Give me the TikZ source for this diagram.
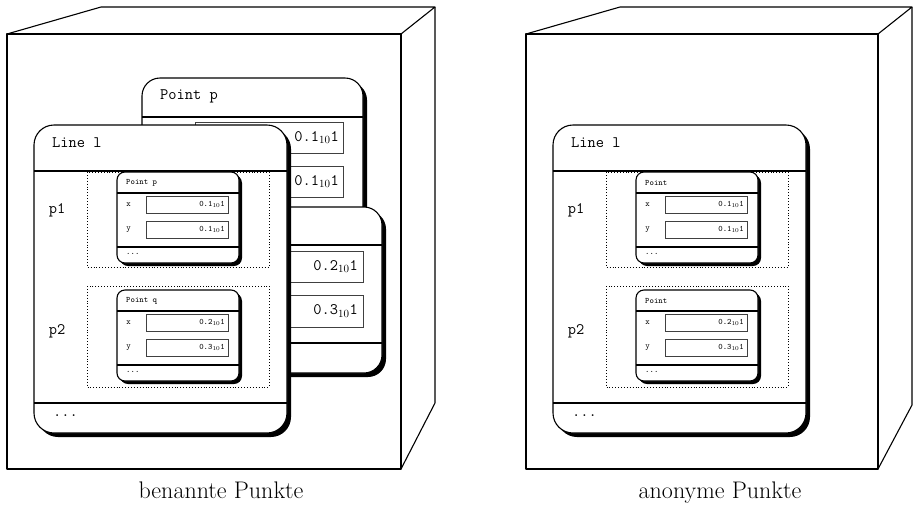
\documentclass[tikz,border=0pt]{standalone}
\tikzset{
  cube/.style={line width=1.1pt, line join=round},
  obj/.style={fill=white, draw=black, line width=1.1pt},
  sep/.style={line width=1.6pt},
  field/.style={draw=black!75, line width=0.9pt, fill=white},
  dotbox/.style={dotted, line width=0.9pt},
  bigtt/.style={font=\fontsize{16}{18}\selectfont\ttfamily, inner sep=0pt},
  smalltt/.style={font=\fontsize{8.3}{10}\selectfont\ttfamily, inner sep=0pt},
  captiontext/.style={font=\fontsize{24}{28}\selectfont, inner sep=0pt},
}
% small object box: #1 prefix, #2 x shift, #3 y shift, #4 title, #5 x value, #6 y value
\newcommand{\smallobj}[6]{%
  \begin{scope}[shift={(#2,#3)}]
    \fill[black, rounded corners=8pt] (120,175) rectangle (242,266);
    \path[obj, rounded corners=8pt] (117,172) rectangle (239,263);
    \draw[sep] (117,193) -- (239,193);
    \draw[sep] (117,247) -- (239,247);
    \node[smalltt, anchor=west] (#1title) at (126,182.5) {#4};
    \node[smalltt] (#1xl) at (128.5,204.5) {x};
    \node[smalltt] (#1yl) at (128.5,229.5) {y};
    \draw[field] (146,196) rectangle (228,213);
    \draw[field] (146,221) rectangle (228,238);
    \node[smalltt, anchor=east] (#1xv) at (225,204.5) {#5};
    \node[smalltt, anchor=east] (#1yv) at (225,229.5) {#6};
    \node[smalltt, anchor=west] (#1dots) at (126,254) {...};
  \end{scope}}
% Line object: #1 prefix, #2 x shift, #3 title p, #4 title q
\newcommand{\lineobj}[4]{%
  \begin{scope}[shift={(#2,0)}]
    \fill[black, rounded corners=20pt] (38,129) rectangle (291,437);
    \path[obj, rounded corners=20pt] (34,125) rectangle (287,433);
    \draw[sep] (34,171) -- (287,171);
    \draw[sep] (34,403) -- (287,403);
    \node[bigtt, anchor=west] (#1title) at (52,143) {Line l};
    \node[bigtt, anchor=west] (#1dots) at (53,416) {...};
    \node[bigtt] (#1pa) at (57,210) {p1};
    \node[bigtt] (#1pb) at (57,331) {p2};
    \draw[dotbox] (87,172) rectangle (269,267);
    \draw[dotbox] (87,286) rectangle (269,387);
    \smallobj{#1a}{0}{0}{#3}{0.1$_{10}$1}{0.1$_{10}$1}
    \smallobj{#1b}{0}{118}{#4}{0.2$_{10}$1}{0.3$_{10}$1}
  \end{scope}}
\begin{document}
\begin{tikzpicture}[x=1pt,y=-1pt]
  \useasboundingbox (0,0) rectangle (913,504);
  % ---- left cube ----
  \draw[cube] (7,34) rectangle (401,469);
  \draw[cube] (7,34) -- (101,7) -- (435,7) -- (401,34);
  \draw[cube] (435,7) -- (435,403) -- (401,469);
  % big Point p (back)
  \fill[black, rounded corners=18pt] (146,82) rectangle (367,248);
  \path[obj, rounded corners=18pt] (142,78) rectangle (363,244);
  \draw[sep] (142,117) -- (363,117);
  \node[bigtt, anchor=west] (bpTitle) at (160,96.5) {Point p};
  \draw[field] (195,122) rectangle (343,153);
  \draw[field] (195,166) rectangle (343,197);
  \node[bigtt, anchor=east] (bpx) at (339,137.5) {0.1$_{10}$1};
  \node[bigtt, anchor=east] (bpy) at (339,181.5) {0.1$_{10}$1};
  % big Point q (middle)
  \fill[black, rounded corners=18pt] (165,211) rectangle (386,377);
  \path[obj, rounded corners=18pt] (161,207) rectangle (382,373);
  \draw[sep] (161,245) -- (382,245);
  \draw[sep] (161,343) -- (382,343);
  \draw[field] (215,251) rectangle (363,282);
  \draw[field] (215,295) rectangle (363,327);
  \node[bigtt, anchor=east] (bqx) at (358,266.5) {0.2$_{10}$1};
  \node[bigtt, anchor=east] (bqy) at (358,311) {0.3$_{10}$1};
  % Line l (front)
  \lineobj{L}{0}{Point p}{Point q}
  \node[captiontext, anchor=base] (cap1) at (221,498) {benannte Punkte};
  % ---- right cube ----
  \draw[cube] (526,34) rectangle (878,469);
  \draw[cube] (526,34) -- (620,7) -- (912,7) -- (878,34);
  \draw[cube] (912,7) -- (912,405) -- (878,469);
  \lineobj{R}{519}{Point}{Point}
  \node[captiontext, anchor=base] (cap2) at (720,498) {anonyme Punkte};
\end{tikzpicture}
\end{document}
